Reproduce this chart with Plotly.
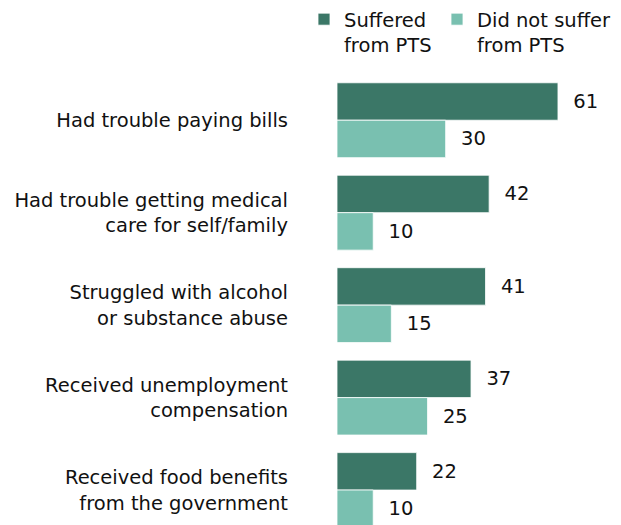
import plotly.graph_objects as go

categories = [
    "Had trouble paying bills",
    "Had trouble getting medical<br>care for self/family",
    "Struggled with alcohol<br>or substance abuse",
    "Received unemployment<br>compensation",
    "Received food benefits<br>from the government",
]
suffered = [61, 42, 41, 37, 22]
not_suffered = [30, 10, 15, 25, 10]
series_names = ["Suffered<br>from PTS", "Did not suffer<br>from PTS"]
colors = ["#3b7767", "#79c0b0"]

FONT = "DejaVu Sans"
FS = 19.5
TXT = "#111111"
PAD = "\u00a0\u00a0"

fig = go.Figure()
for i, (name, vals, col) in enumerate(zip(series_names, [suffered, not_suffered], colors)):
    fig.add_trace(go.Bar(
        y=categories, x=vals, name=name, orientation="h",
        marker=dict(color=col, line=dict(color="white", width=0.8)),
        text=vals, texttemplate=PAD + "%{x}", textposition="outside",
        constraintext="none", cliponaxis=False,
        textfont=dict(family=FONT, size=FS, color=TXT),
        hoverinfo="skip",
        legend="legend" if i == 0 else "legend2",
    ))

leg_common = dict(
    orientation="h", xref="container", yref="container",
    y=1.0, xanchor="left", yanchor="top", valign="top",
    font=dict(family=FONT, size=FS, color=TXT),
    bgcolor="rgba(0,0,0,0)",
)

fig.update_layout(
    width=621, height=525,
    margin=dict(l=337, r=0, t=74, b=0, pad=0),
    barmode="group", bargap=0.19, bargroupgap=0,
    paper_bgcolor="white", plot_bgcolor="white",
    font=dict(family=FONT, size=FS, color=TXT),
    showlegend=True,
    legend=dict(x=304 / 621, **leg_common),
    legend2=dict(x=437 / 621, **leg_common),
    xaxis=dict(range=[0, 78.4], visible=False, fixedrange=True),
    yaxis=dict(
        type="category", range=[4.378, -0.5],
        showgrid=False, zeroline=False, showline=False,
        ticks="", ticklabelstandoff=48,
        tickfont=dict(family=FONT, size=FS, color=TXT),
        fixedrange=True,
    ),
)

fig.write_html("out.html", config={"displayModeBar": False},
               post_script="document.body.style.margin='0px';")
